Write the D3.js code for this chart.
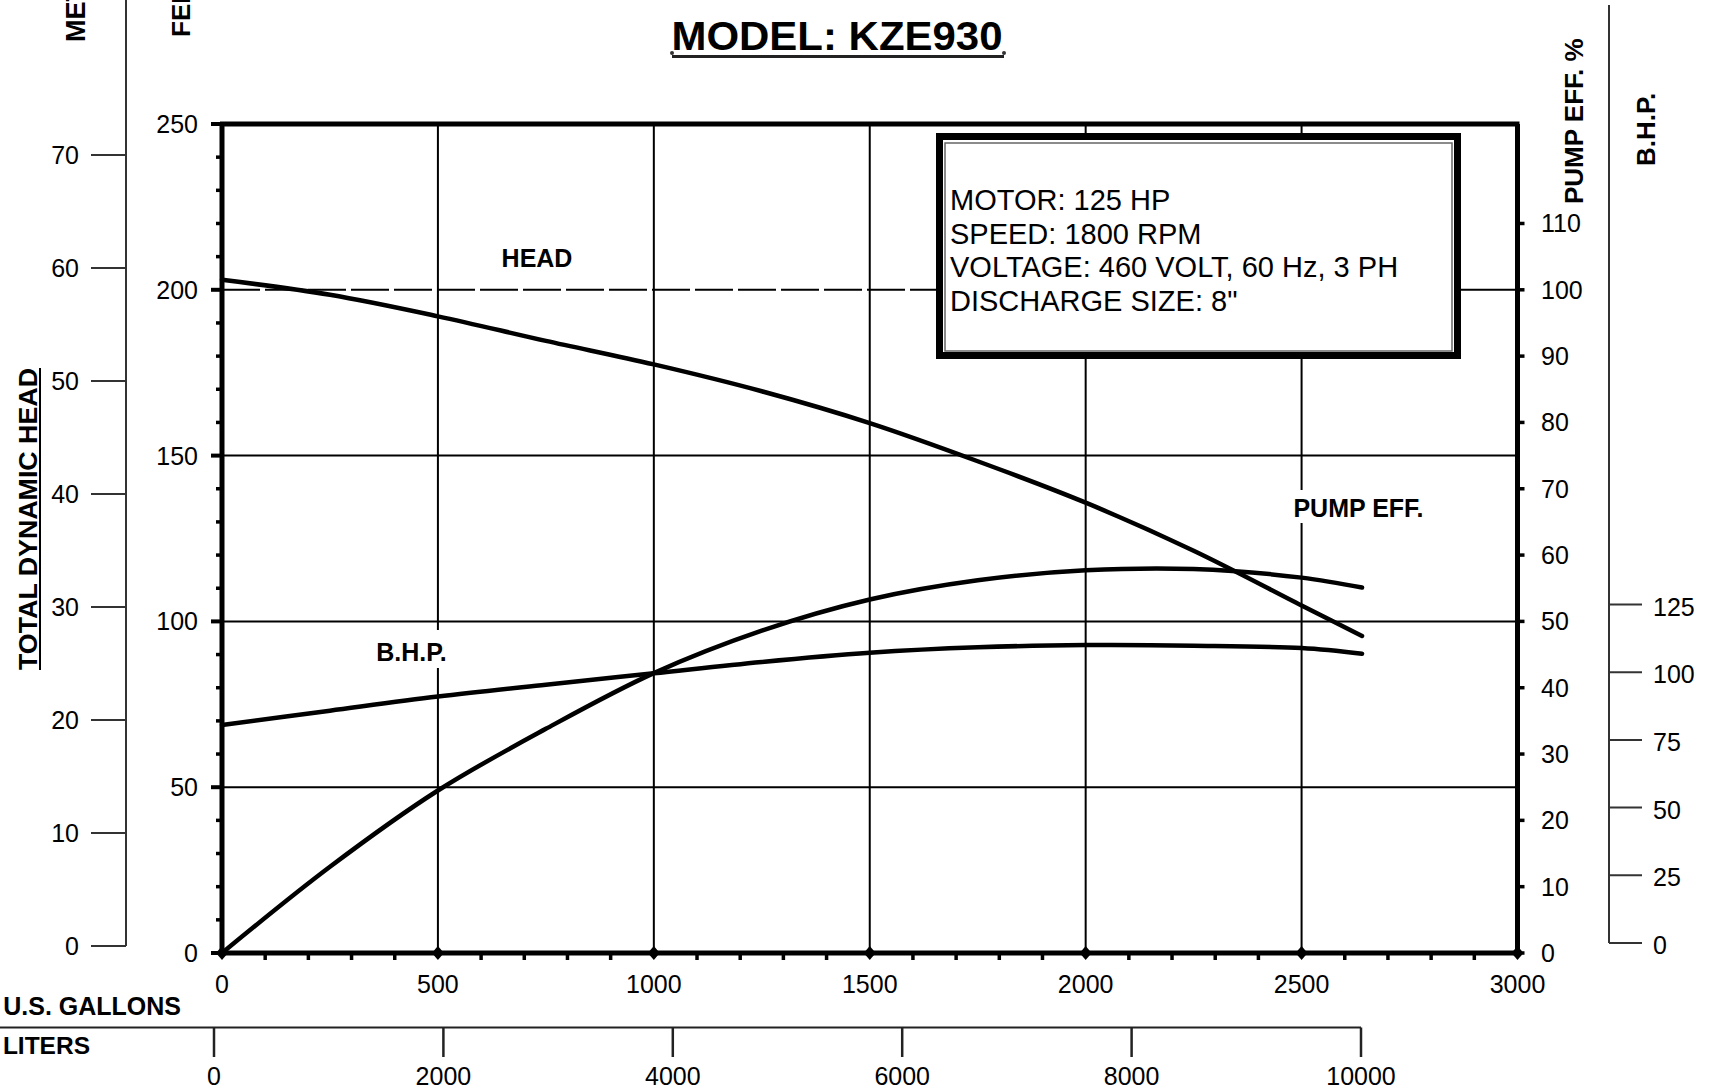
<!DOCTYPE html>
<html><head><meta charset="utf-8">
<script src="https://cdn.jsdelivr.net/npm/d3@7"></script>
<style>html,body{margin:0;padding:0;background:#fff;}svg{display:block;font-family:"Liberation Sans",Arial,sans-serif;}</style>
</head><body>
<script>
// ---- data ----
const flowGpm = [0,250,500,750,1000,1250,1500,1750,2000,2250,2500,2640];
const headFt  = [203,198.5,192,184.6,177.5,169.4,159.8,148.3,135.8,121.3,104.8,95.6];
const effPct  = [0,13,24.5,33.8,42.2,48.6,53.3,56.2,57.7,57.9,56.6,55.1];
const bhpHp   = [80.5,85.8,91.0,95.4,99.6,103.8,107.2,109.2,110.0,109.8,108.9,106.8];

const flowTicks  = [0,500,1000,1500,2000,2500,3000];
const feetTicks  = [0,50,100,150,200,250];
const effTicks   = [0,10,20,30,40,50,60,70,80,90,100,110];
const meterTicks = [0,10,20,30,40,50,60,70];
const bhpTicks   = [0,25,50,75,100,125];
const literTicks = [0,2000,4000,6000,8000,10000];
const infoLines  = ["MOTOR: 125 HP","SPEED: 1800 RPM","VOLTAGE: 460 VOLT, 60 Hz, 3 PH","DISCHARGE SIZE: 8\""];
const titleText  = "MODEL: KZE930";

const W = 1714, H = 1092;
const svg = d3.select("body").append("svg").attr("width",W).attr("height",H);
svg.append("rect").attr("width",W).attr("height",H).attr("fill","#fff");

// ---- scales ----
const x  = d3.scaleLinear().domain([0,3000]).range([222,1517.5]);
const yF = d3.scaleLinear().domain([0,250]).range([953,124]);
const yE = d3.scaleLinear().domain([0,125]).range([953,124]);
const yM = d3.scaleLinear().domain([0,70]).range([946,155]);
const yB = d3.scaleLinear().domain([0,125]).range([943,604.5]);
const xL = d3.scaleLinear().domain([0,10000]).range([214,1361]);

const g = svg.append("g");

// ---- gridlines ----
[500,1000,1500,2000,2500].forEach(v=>{
  g.append("line").attr("x1",x(v)).attr("x2",x(v)).attr("y1",yF(250)).attr("y2",yF(0))
   .attr("stroke","#000").attr("stroke-width",2);
});
[50,100,150].forEach(v=>{
  g.append("line").attr("x1",x(0)).attr("x2",x(3000)).attr("y1",yF(v)).attr("y2",yF(v))
   .attr("stroke","#000").attr("stroke-width",2);
});
// 200 ft line: dashed on the left, solid on the right of the box
g.append("line").attr("x1",x(0)).attr("x2",936).attr("y1",yF(200)).attr("y2",yF(200))
 .attr("stroke","#000").attr("stroke-width",2).attr("stroke-dasharray","38,5");
g.append("line").attr("x1",1461).attr("x2",x(3000)).attr("y1",yF(200)).attr("y2",yF(200))
 .attr("stroke","#000").attr("stroke-width",2);

// ---- info box ----
g.append("rect").attr("x",939.5).attr("y",136.5).attr("width",518).attr("height",219)
 .attr("fill","#fff").attr("stroke","#000").attr("stroke-width",7);
g.append("rect").attr("x",945).attr("y",143).attr("width",507).attr("height",208)
 .attr("fill","none").attr("stroke","#666").attr("stroke-width",1.5);
infoLines.forEach((t,i)=>{
  g.append("text").attr("x",950).attr("y",210+i*33.5).attr("font-size",29).attr("fill","#000").text(t);
});

// ---- label backgrounds (gaps in gridlines) ----
g.append("rect").attr("x",370).attr("y",630).attr("width",83).attr("height",38).attr("fill","#fff");
g.append("rect").attr("x",1286).attr("y",490).attr("width",146).attr("height",33).attr("fill","#fff");

// ---- curves ----
const lineOf = (ys, sc) => d3.line().x((d,i)=>x(flowGpm[i])).y((d,i)=>sc(ys[i])).curve(d3.curveCatmullRom.alpha(0.5))(flowGpm);
[[headFt,yF],[effPct,yE],[bhpHp,yB]].forEach(([ys,sc])=>{
  g.append("path").attr("d",lineOf(ys,sc)).attr("fill","none").attr("stroke","#000")
   .attr("stroke-width",4.5).attr("stroke-linecap","round").attr("stroke-linejoin","round");
});

// ---- frame ----
const frame = g.append("g").attr("stroke","#000").attr("stroke-width",5);
frame.append("line").attr("x1",x(0)-2).attr("x2",x(3000)+2).attr("y1",yF(250)).attr("y2",yF(250));
frame.append("line").attr("x1",x(0)).attr("x2",x(0)).attr("y1",yF(250)).attr("y2",yF(0));
frame.append("line").attr("x1",x(0)).attr("x2",x(3000)).attr("y1",yF(0)).attr("y2",yF(0));
frame.append("line").attr("x1",x(3000)).attr("x2",x(3000)).attr("y1",yF(250)).attr("y2",yF(0));

// minor ticks left (every 10 ft)
d3.range(0,251,10).forEach(v=>{
  const major = v%50===0;
  g.append("line").attr("x1",major?211:216).attr("x2",x(0)).attr("y1",yF(v)).attr("y2",yF(v))
   .attr("stroke","#000").attr("stroke-width",major?4:3.5);
});
// bottom ticks (every 100 gpm)
d3.range(0,3001,100).forEach(v=>{
  if(v%500===0){
    const cx=x(v), cy=yF(0);
    g.append("path").attr("d",`M${cx-6},${cy}L${cx},${cy-7}L${cx+6},${cy}L${cx},${cy+7}Z`).attr("fill","#000");
  } else {
    g.append("line").attr("x1",x(v)).attr("x2",x(v)).attr("y1",yF(0)).attr("y2",yF(0)+7)
     .attr("stroke","#000").attr("stroke-width",3.5);
  }
});
// right ticks (every 10 %)
effTicks.forEach(v=>{
  g.append("line").attr("x1",x(3000)).attr("x2",x(3000)+7).attr("y1",yE(v)).attr("y2",yE(v))
   .attr("stroke","#000").attr("stroke-width",3.5);
});

// ---- tick labels ----
const lab = (xx,yy,t,anchor,size=25)=> g.append("text").attr("x",xx).attr("y",yy).attr("text-anchor",anchor)
  .attr("font-size",size).attr("fill","#000").text(t);
feetTicks.forEach(v=>lab(198, yF(v)+9, v, "end"));
flowTicks.forEach(v=>lab(x(v), 993, v, "middle"));
effTicks.forEach(v=>lab(1541, yE(v)+9, v, "start"));

// meters axis
g.append("line").attr("x1",126).attr("x2",126).attr("y1",0).attr("y2",yM(0)).attr("stroke","#333").attr("stroke-width",2);
meterTicks.forEach(v=>{
  g.append("line").attr("x1",91).attr("x2",126).attr("y1",yM(v)).attr("y2",yM(v)).attr("stroke","#333").attr("stroke-width",2);
  lab(79, yM(v)+9, v, "end");
});
// B.H.P. axis
g.append("line").attr("x1",1609).attr("x2",1609).attr("y1",5).attr("y2",yB(0)).attr("stroke","#333").attr("stroke-width",2);
bhpTicks.forEach(v=>{
  g.append("line").attr("x1",1609).attr("x2",1642).attr("y1",yB(v)).attr("y2",yB(v)).attr("stroke","#333").attr("stroke-width",2);
  lab(1653, yB(v)+11, v, "start");
});
// liters axis
g.append("line").attr("x1",0).attr("x2",xL(10000)).attr("y1",1027.5).attr("y2",1027.5).attr("stroke","#222").attr("stroke-width",2);
literTicks.forEach(v=>{
  g.append("line").attr("x1",xL(v)).attr("x2",xL(v)).attr("y1",1027.5).attr("y2",1057).attr("stroke","#222").attr("stroke-width",2.5);
  lab(xL(v), 1085, v, "middle");
});

// ---- axis titles ----
const bold = (xx,yy,t,anchor,size,rot)=>{
  const tx = g.append("text").attr("transform",`translate(${xx},${yy})${rot?" rotate(-90)":""}`)
    .attr("text-anchor",anchor).attr("font-size",size).attr("font-weight","bold").attr("fill","#000").text(t);
  return tx;
};
bold(181,1015,"U.S. GALLONS","end",25,false);
bold(90,1054,"LITERS","end",24.5,false);
bold(85,42,"METERS","start",27,true);
bold(190,37,"FEET","start",26,true);
bold(37,519,"TOTAL DYNAMIC HEAD","middle",26,true).attr("textLength",302).attr("lengthAdjust","spacingAndGlyphs");
g.append("line").attr("x1",40).attr("x2",40).attr("y1",368).attr("y2",670).attr("stroke","#000").attr("stroke-width",2);
bold(1583,204,"PUMP EFF. %","start",26,true);
bold(1655,166,"B.H.P.","start",26,true);

// curve labels
bold(537,267,"HEAD","middle",25,false);
bold(411.5,661,"B.H.P.","middle",25,false);
bold(1358.5,517,"PUMP EFF.","middle",25,false);

// title
bold(837,50,titleText,"middle",41,false).attr("textLength",331).attr("lengthAdjust","spacingAndGlyphs");
g.append("line").attr("x1",672).attr("x2",1004).attr("y1",56.5).attr("y2",56.5).attr("stroke","#222").attr("stroke-width",3);
[672,1004].forEach(cx=>g.append("circle").attr("cx",cx).attr("cy",53).attr("r",2).attr("fill","#333"));
</script>
</body></html>
